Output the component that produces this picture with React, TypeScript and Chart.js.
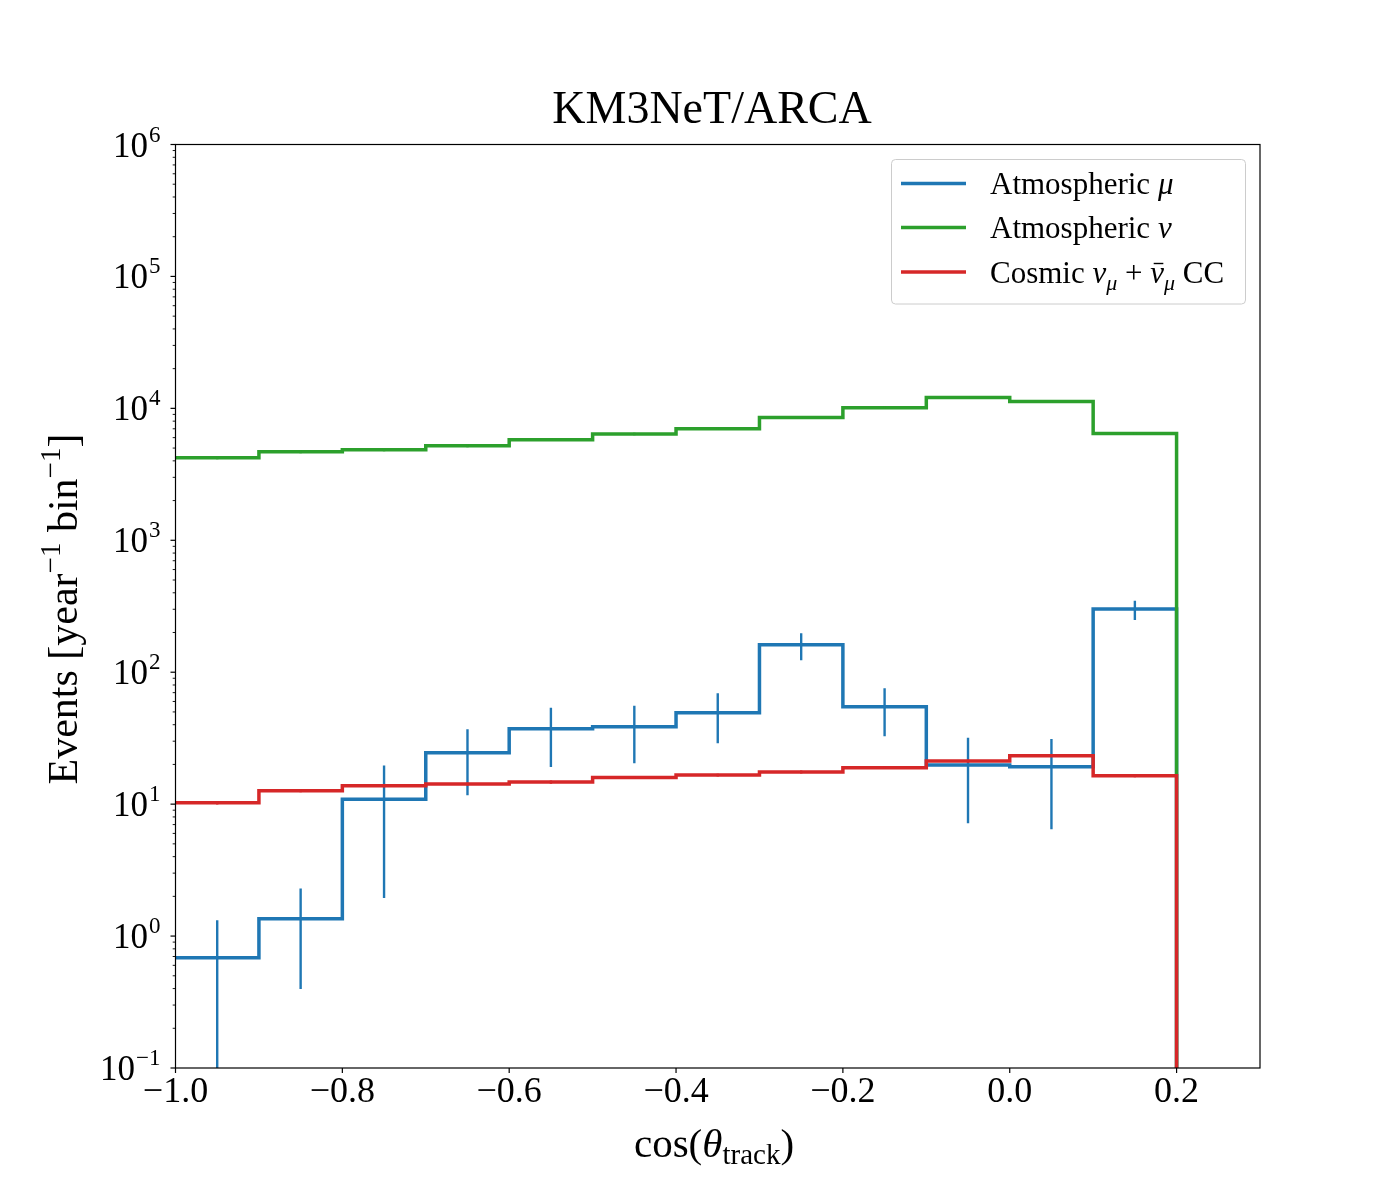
import React, { useEffect, useRef } from 'react';
import { Chart, registerables } from 'chart.js';

Chart.register(...registerables);

// bin layout of the cos(theta_track) histogram
const binEdges = [-1.0, -0.9, -0.8, -0.7, -0.6, -0.5, -0.4, -0.3, -0.2, -0.1, 0.0, 0.1, 0.2];
const binCenters = [-0.95, -0.85, -0.75, -0.65, -0.55, -0.45, -0.35, -0.25, -0.15, -0.05, 0.05, 0.15];

// Atmospheric mu (with error band low / high)
const atmMu = [0.686, 1.355, 10.9, 24.5, 37.3, 38.6, 49.3, 161.7, 54.8, 19.8, 19.2, 301];
const atmMuLo = [0.052, 0.397, 1.94, 11.7, 19.1, 20.4, 28.9, 123, 32.7, 7.16, 6.45, 249];
const atmMuHi = [1.32, 2.29, 19.6, 36.9, 53.8, 55.7, 69.2, 197, 75.5, 31.9, 31.2, 348];

// Atmospheric nu
const atmNu = [4227, 4694, 4860, 5212, 5789, 6391, 7012, 8543, 10116, 12106, 11290, 6459];
const atmNuErr = [110, 120, 120, 130, 140, 150, 160, 190, 210, 240, 230, 170];

// Cosmic nu_mu + anti-nu_mu CC
const cosmic = [10.25, 12.65, 13.8, 14.2, 14.7, 15.9, 16.6, 17.5, 18.9, 21.2, 23.3, 16.4];
const cosmicErr = [0.3, 0.35, 0.35, 0.35, 0.4, 0.4, 0.4, 0.45, 0.45, 0.5, 0.55, 0.4];

const xTicks = [-1.0, -0.8, -0.6, -0.4, -0.2, 0.0, 0.2];
const yDecades = [-1, 0, 1, 2, 3, 4, 5, 6];

const BLUE = '#1f77b4';
const GREEN = '#2ca02c';
const RED = '#d62728';
const SERIF = '"Liberation Serif", "DejaVu Serif", serif';

type Part = { t: string; font: string; dy?: number; bar?: boolean };

function drawRich(ctx: CanvasRenderingContext2D, parts: Part[], x: number, y: number, align: 'left' | 'center' | 'right') {
    let w = 0;
    parts.forEach(p => { ctx.font = p.font; w += ctx.measureText(p.t).width; });
    let cx = align === 'left' ? x : align === 'center' ? x - w / 2 : x - w;
    ctx.textAlign = 'left';
    ctx.textBaseline = 'alphabetic';
    parts.forEach(p => {
        ctx.font = p.font;
        const pw = ctx.measureText(p.t).width;
        ctx.fillText(p.t, cx, y + (p.dy || 0));
        if (p.bar) {
            // bar over nu
            ctx.save();
            ctx.strokeStyle = ctx.fillStyle as string;
            ctx.lineWidth = 1.4;
            ctx.beginPath();
            ctx.moveTo(cx + pw * 0.25, y - 19);
            ctx.lineTo(cx + pw * 0.95, y - 19);
            ctx.stroke();
            ctx.restore();
        }
        cx += pw;
    });
    return w;
}

const fmtTick = (v: number) => v.toFixed(1).replace('-', '\u2212');

const stepData = (vals: number[]) => [
    ...vals.map((v, i) => ({ x: binEdges[i], y: v })),
    { x: binEdges[binEdges.length - 1], y: vals[vals.length - 1] },
    { x: binEdges[binEdges.length - 1], y: 1e-3 },
];

const errData = (lo: number[], hi: number[]) =>
    binCenters.flatMap((c, i) => [{ x: c, y: lo[i] }, { x: c, y: hi[i] }, { x: c, y: null as any }]);

const histStyle = (color: string, order: number) => ({
    borderColor: color,
    backgroundColor: color,
    borderWidth: 3.5,
    pointRadius: 0,
    stepped: true as const,
    fill: false,
    tension: 0,
    borderJoinStyle: 'miter' as const,
    borderCapStyle: 'butt' as const,
    order,
});

const errStyle = (color: string, order: number) => ({
    borderColor: color,
    backgroundColor: color,
    borderWidth: 2.4,
    pointRadius: 0,
    fill: false,
    spanGaps: false,
    borderCapStyle: 'butt' as const,
    order,
});

const decorations = {
    id: 'mplDecor',
    afterDatasetsDraw(chart: Chart) {
        const ctx = chart.ctx;
        const { left, right, top, bottom } = chart.chartArea;
        const xs = chart.scales.x;
        const ys = chart.scales.y;
        ctx.save();
        ctx.fillStyle = '#000';
        ctx.strokeStyle = '#000';

        // frame
        ctx.lineWidth = 1.2;
        ctx.strokeRect(left, top, right - left, bottom - top);

        // x ticks + labels
        ctx.lineWidth = 1.2;
        xTicks.forEach(v => {
            const px = xs.getPixelForValue(v);
            ctx.beginPath();
            ctx.moveTo(px, bottom);
            ctx.lineTo(px, bottom + 5);
            ctx.stroke();
            drawRich(ctx, [{ t: fmtTick(v), font: `36px ${SERIF}` }], px, bottom + 34, 'center');
        });

        // y major + minor ticks and labels
        yDecades.forEach(d => {
            const py = ys.getPixelForValue(Math.pow(10, d));
            ctx.beginPath();
            ctx.moveTo(left, py);
            ctx.lineTo(left - 5, py);
            ctx.stroke();
            const exp = d < 0 ? '\u2212' + Math.abs(d) : String(d);
            ctx.font = `23px ${SERIF}`;
            const ew = ctx.measureText(exp).width;
            const xr = left - 15;
            drawRich(ctx, [{ t: exp, font: `23px ${SERIF}` }], xr, py - 3, 'right');
            drawRich(ctx, [{ t: '10', font: `35px ${SERIF}` }], xr - ew - 1, py + 12, 'right');
            if (d < 6) {
                ctx.lineWidth = 0.9;
                for (let m = 2; m <= 9; m++) {
                    const pm = ys.getPixelForValue(m * Math.pow(10, d));
                    ctx.beginPath();
                    ctx.moveTo(left, pm);
                    ctx.lineTo(left - 2.8, pm);
                    ctx.stroke();
                }
                ctx.lineWidth = 1.2;
            }
        });

        // title
        drawRich(ctx, [{ t: 'KM3NeT/ARCA', font: `46px ${SERIF}` }], 712, 123, 'center');

        // x label
        drawRich(ctx, [
            { t: 'cos(', font: `41px ${SERIF}` },
            { t: '\u03b8', font: `italic 41px ${SERIF}` },
            { t: 'track', font: `29px ${SERIF}`, dy: 7 },
            { t: ')', font: `41px ${SERIF}` },
        ], 714, 1157, 'center');

        // y label
        ctx.save();
        ctx.translate(77, 609);
        ctx.rotate(-Math.PI / 2);
        drawRich(ctx, [
            { t: 'Events [year', font: `42px ${SERIF}` },
            { t: '\u22121', font: `29px ${SERIF}`, dy: -17 },
            { t: ' bin', font: `42px ${SERIF}` },
            { t: '\u22121', font: `29px ${SERIF}`, dy: -17 },
            { t: ']', font: `42px ${SERIF}` },
        ], 0, 0, 'center');
        ctx.restore();

        // legend
        const lx = 891.5, ly = 159.5, lw = 354, lh = 144.5;
        ctx.fillStyle = 'rgba(255,255,255,0.8)';
        ctx.strokeStyle = '#cccccc';
        ctx.lineWidth = 1;
        ctx.beginPath();
        ctx.roundRect(lx, ly, lw, lh, 4);
        ctx.fill();
        ctx.stroke();

        const rows: { color: string; parts: Part[] }[] = [
            { color: BLUE, parts: [{ t: 'Atmospheric ', font: `31px ${SERIF}` }, { t: '\u03bc', font: `italic 31px ${SERIF}` }] },
            { color: GREEN, parts: [{ t: 'Atmospheric ', font: `31px ${SERIF}` }, { t: '\u03bd', font: `italic 31px ${SERIF}` }] },
            {
                color: RED, parts: [
                    { t: 'Cosmic ', font: `31px ${SERIF}` },
                    { t: '\u03bd', font: `italic 31px ${SERIF}` },
                    { t: '\u03bc', font: `italic 22px ${SERIF}`, dy: 7 },
                    { t: ' + ', font: `31px ${SERIF}` },
                    { t: '\u03bd', font: `italic 31px ${SERIF}`, bar: true },
                    { t: '\u03bc', font: `italic 22px ${SERIF}`, dy: 7 },
                    { t: ' CC', font: `31px ${SERIF}` },
                ],
            },
        ];
        const rowY = [183.5, 227.5, 272];
        rows.forEach((r, i) => {
            ctx.strokeStyle = r.color;
            ctx.lineWidth = 3.5;
            ctx.beginPath();
            ctx.moveTo(901, rowY[i]);
            ctx.lineTo(966, rowY[i]);
            ctx.stroke();
            ctx.fillStyle = '#000';
            drawRich(ctx, r.parts, 990, rowY[i] + 10.5, 'left');
        });

        ctx.restore();
    },
};

export default function App() {
    const canvasRef = useRef<HTMLCanvasElement>(null);
    const chartRef = useRef<Chart | null>(null);

    useEffect(() => {
        if (!canvasRef.current) return;
        if (chartRef.current) chartRef.current.destroy();

        chartRef.current = new Chart(canvasRef.current, {
            type: 'line',
            data: {
                datasets: [
                    { label: 'Atmospheric mu', data: stepData(atmMu), ...histStyle(BLUE, 6) },
                    { label: 'Atmospheric mu err', data: errData(atmMuLo, atmMuHi), ...errStyle(BLUE, 5) },
                    { label: 'Atmospheric nu', data: stepData(atmNu), ...histStyle(GREEN, 4) },
                    {
                        label: 'Atmospheric nu err',
                        data: errData(atmNu.map((v, i) => v - atmNuErr[i]), atmNu.map((v, i) => v + atmNuErr[i])),
                        ...errStyle(GREEN, 3),
                    },
                    { label: 'Cosmic', data: stepData(cosmic), ...histStyle(RED, 2) },
                    {
                        label: 'Cosmic err',
                        data: errData(cosmic.map((v, i) => v - cosmicErr[i]), cosmic.map((v, i) => v + cosmicErr[i])),
                        ...errStyle(RED, 1),
                    },
                ] as any,
            },
            options: {
                animation: false,
                responsive: false,
                events: [],
                layout: { padding: { left: 175.5, top: 144.5, right: 140, bottom: 132 } },
                plugins: {
                    legend: { display: false },
                    tooltip: { enabled: false },
                    title: { display: false },
                },
                scales: {
                    x: { type: 'linear', min: -1.0, max: 0.3, display: false },
                    y: { type: 'logarithmic', min: 0.1, max: 1e6, display: false },
                },
            },
            plugins: [decorations],
        });

        return () => {
            if (chartRef.current) {
                chartRef.current.destroy();
                chartRef.current = null;
            }
        };
    }, []);

    return (
        <div style={{ position: 'absolute', left: 0, top: 0, width: 1400, height: 1200, background: '#fff' }}>
            <canvas ref={canvasRef} width={1400} height={1200} style={{ display: 'block', width: 1400, height: 1200 }}></canvas>
        </div>
    );
}
